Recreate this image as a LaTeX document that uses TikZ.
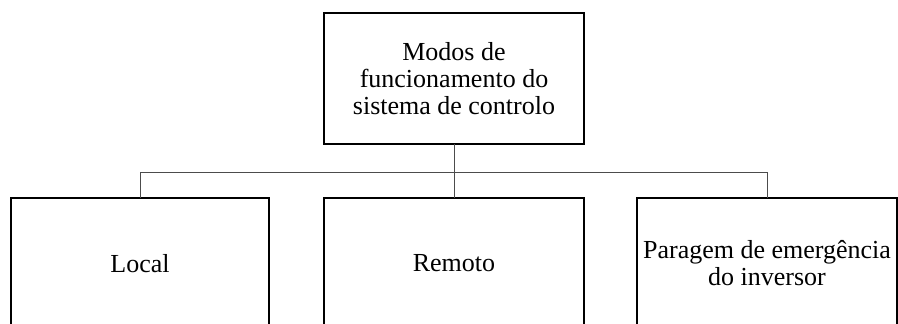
\documentclass[tikz,border=0pt]{standalone}
\usepackage{fontspec}
\setmainfont{Liberation Serif}
\usetikzlibrary{positioning,calc}

\tikzset{
  modebox/.style={draw,line width=1pt,minimum width=195pt,minimum height=98.25pt,
    inner sep=0pt,outer sep=0pt,align=center,font=\fontsize{19.5}{20.25}\selectfont},
  link/.style={draw=black!70,line width=0.6pt}
}

\begin{document}
\begin{tikzpicture}
    \clip (0,0) rectangle (673.5pt,-243pt);
    % top box
    \node[modebox] (modos) at (340.5pt,-58.9pt) {Modos de\\funcionamento do\\sistema de controlo};
    % modes
    \node[modebox,below=40.5pt of modos] (remoto) {Remoto};
    \node[modebox,minimum width=193.5pt,left=41.25pt of remoto] (local) {Local};
    \node[modebox,right=39.75pt of remoto] (paragem) {Paragem de emergência\\do inversor};
    % connectors
    \coordinate (bar) at ($(modos.south)!0.52!(remoto.north)$);
    \draw[link] (modos.south) -- (remoto.north);
    \draw[link] (local.north) -- (local.north |- bar) -- (paragem.north |- bar) -- (paragem.north);
\end{tikzpicture}
\end{document}
